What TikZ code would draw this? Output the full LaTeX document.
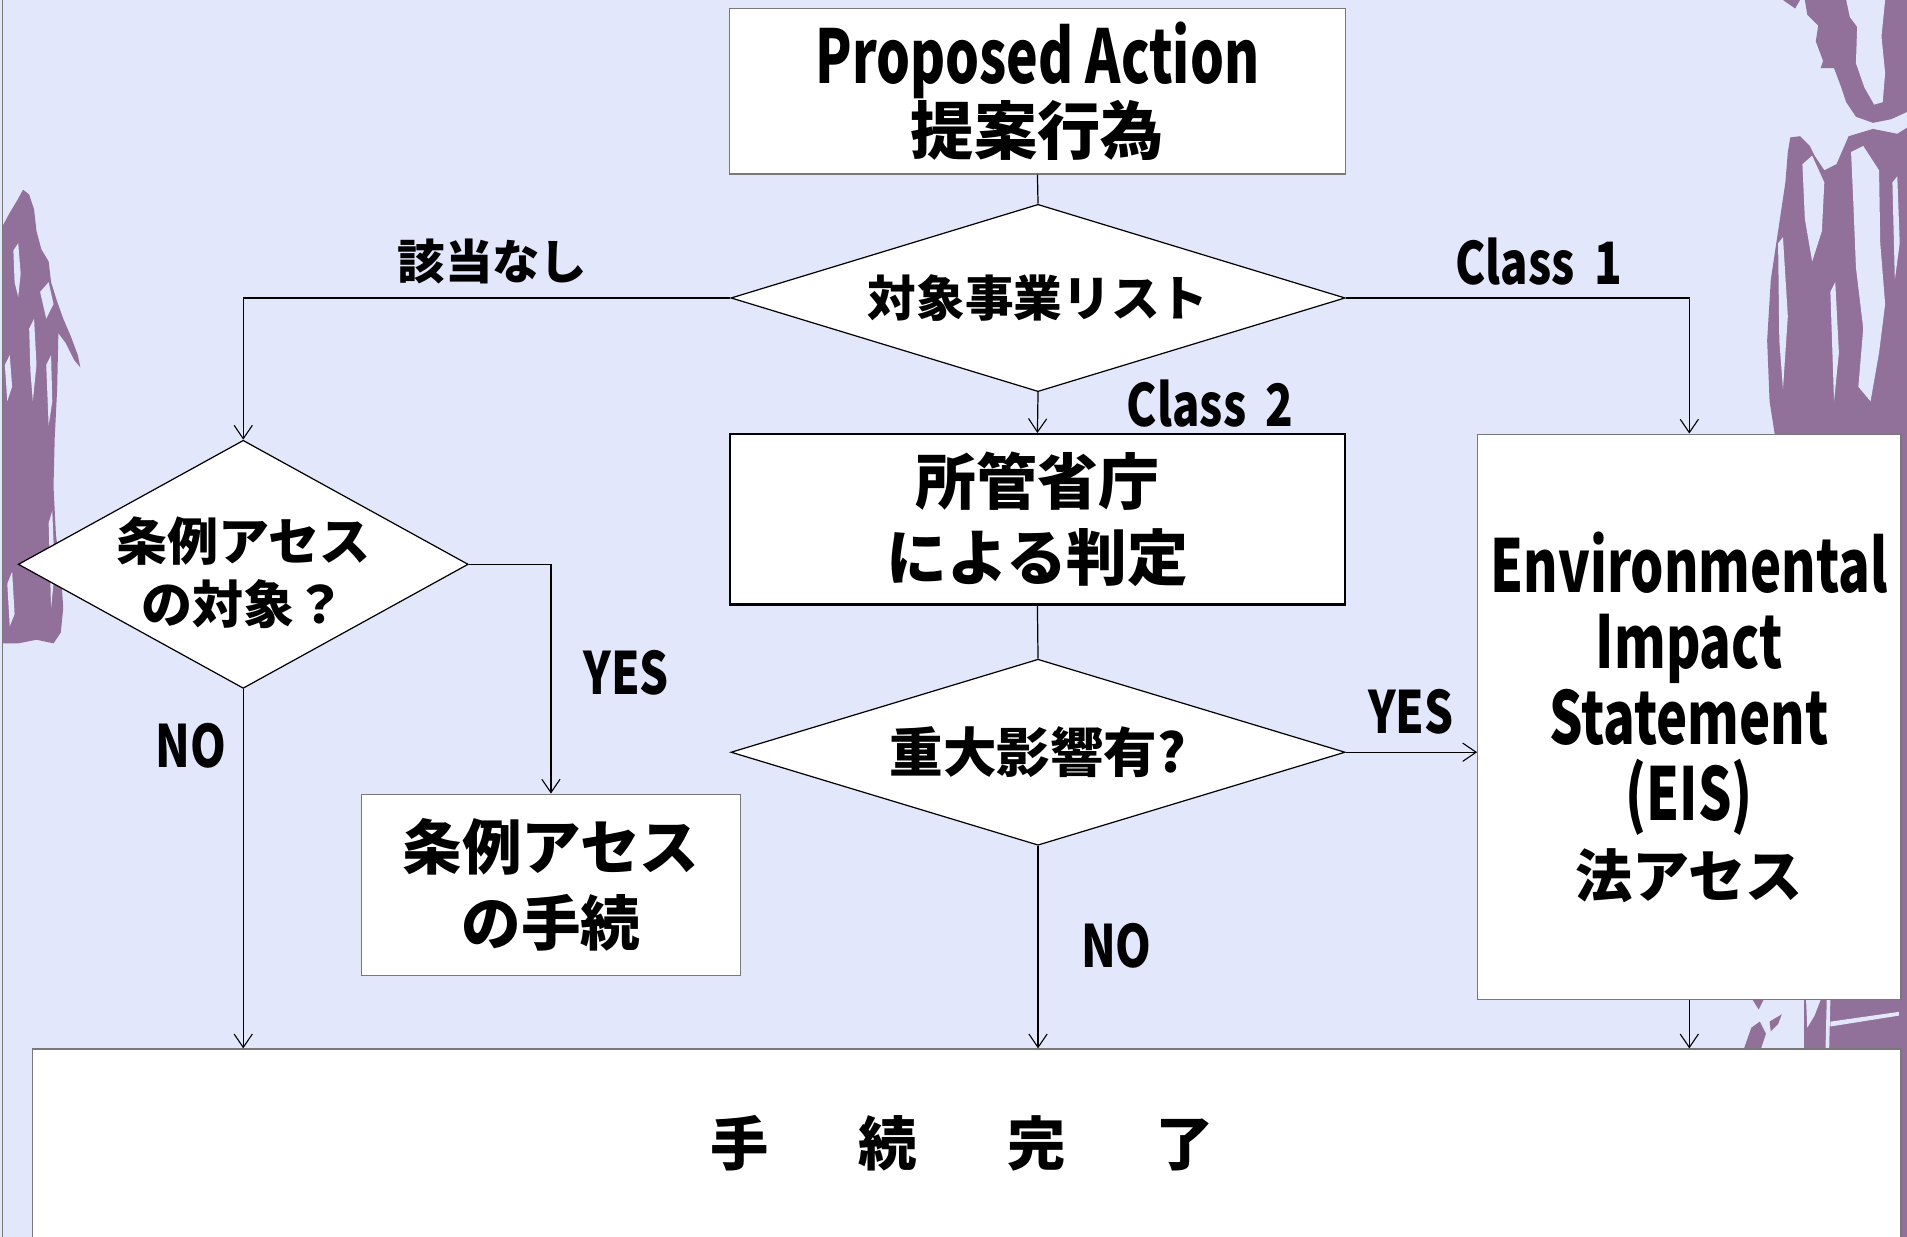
\documentclass[tikz,border=0pt]{standalone}
\usepackage{fontspec}
\usetikzlibrary{shapes.geometric,arrows.meta,calc}
\newfontfamily\jp{Noto Sans CJK JP}[BoldFont={Noto Sans CJK JP Black}]
\newfontfamily\lat{Noto Sans CJK JP}[FakeStretch=0.78]
\newfontfamily\latn{Noto Sans CJK JP}[FakeStretch=0.72]
\newcommand{\fsz}[2]{\fontsize{#1bp}{#2bp}\selectfont}
\definecolor{bgc}{RGB}{226,231,251}
\definecolor{brush}{RGB}{145,112,153}
\definecolor{edge}{RGB}{120,120,120}

\begin{document}
\begin{tikzpicture}[x=1bp,y=-1bp,
  box/.style={draw=edge, line width=1bp, fill=white, inner sep=0pt},
  thickbox/.style={draw=black, line width=2bp, fill=white, inner sep=0pt},
  dia/.style={diamond, draw=black, line width=1bp, fill=white, inner sep=0pt},
  flow/.style={draw=black, line width=1bp, -{Straight Barb[length=11bp,width=15bp,line width=0.9bp]}},
  plain/.style={draw=black, line width=1bp},
  jtxt/.style={font=\jp\bfseries, align=center, inner sep=0pt},
  ltxt/.style={font=\lat\bfseries, align=center, inner sep=0pt}
]
% page and background
\useasboundingbox (0,0) rectangle (1568,1017);
\clip (0,0) rectangle (1568,1017);
\fill[bgc] (0,0) rectangle (1568,1017);

% brush strokes, left edge
\fill[brush] (2,186) -- (8,175) -- (14,165) -- (19,156) -- (24,160) -- (28,172)
  -- (30,190) -- (34,205) -- (40,215) -- (42,232) -- (47,248) -- (52,262)
  -- (58,276) -- (64,292) -- (66,302) -- (61,296) -- (54,282) -- (48,274)
  -- (47,320) -- (45,360) -- (44,400) -- (46,440) -- (50,470) -- (52,500)
  -- (50,520) -- (44,529) -- (30,526) -- (15,529) -- (2,529) -- cycle;
\fill[bgc] (11,206) -- (15,200) -- (17,225) -- (15,244) -- (12,232) -- cycle;
\fill[bgc] (33,240) -- (40,232) -- (44,250) -- (38,262) -- cycle;
\fill[bgc] (38,300) -- (42,292) -- (43,330) -- (40,350) -- cycle;
\fill[bgc] (4,300) -- (8,292) -- (10,318) -- (6,330) -- cycle;
\fill[bgc] (24,270) -- (28,262) -- (30,300) -- (27,330) -- (25,305) -- cycle;
\fill[bgc] (40,430) -- (43,420) -- (45,470) -- (42,500) -- cycle;
\fill[bgc] (6,480) -- (10,470) -- (12,505) -- (8,515) -- cycle;

% brush strokes, right edge (top)
\fill[brush] (1484,0) -- (1486,12) -- (1495,21) -- (1493,34) -- (1499,50)
  -- (1497,56) -- (1508,56) -- (1514,72) -- (1518,84) -- (1526,96)
  -- (1540,101) -- (1555,98) -- (1568,92) -- (1568,0) -- cycle;
\fill[bgc] (1518,0) -- (1521,14) -- (1527,22) -- (1526,52) -- (1533,72)
  -- (1541,86) -- (1548,84) -- (1550,60) -- (1547,30) -- (1550,0) -- cycle;
\fill[brush] (1466,0) -- (1480,0) -- (1476,7) -- cycle;
\fill[brush] (1472,113) -- (1480,112) -- (1488,120) -- (1492,128) -- (1500,140)
  -- (1510,135) -- (1520,112) -- (1540,106) -- (1560,110) -- (1568,105)
  -- (1568,362) -- (1460,362) -- (1455,330) -- (1453,280) -- (1456,230)
  -- (1462,190) -- (1468,150) -- (1470,125) -- cycle;
\fill[bgc] (1522,125) -- (1532,120) -- (1545,140) -- (1546,200) -- (1550,250)
  -- (1545,290) -- (1538,330) -- (1528,318) -- (1532,270) -- (1526,220)
  -- (1524,170) -- cycle;
\fill[bgc] (1482,135) -- (1490,128) -- (1500,150) -- (1498,190) -- (1490,215)
  -- (1484,180) -- cycle;
\fill[bgc] (1462,200) -- (1466,195) -- (1470,260) -- (1466,320) -- (1463,280) -- cycle;
\fill[bgc] (1505,240) -- (1509,232) -- (1512,290) -- (1508,330) -- cycle;
\fill[bgc] (1556,150) -- (1560,145) -- (1562,200) -- (1558,230) -- cycle;

% brush strokes, right edge (lower)
\fill[brush] (1483,822) rectangle (1568,862);
\fill[bgc] (1485,822) -- (1497,822) -- (1492,835) -- (1486,845) -- cycle;
\fill[bgc] (1502,822) -- (1505,822) -- (1504,862) -- (1501,862) -- cycle;
\fill[bgc] (1505,840) -- (1568,831) -- (1568,834) -- (1505,844) -- cycle;
\fill[brush] (1434,862) -- (1440,845) -- (1447,840) -- (1452,850) -- (1448,862) -- cycle;
\fill[brush] (1455,840) -- (1465,834) -- (1462,842) -- (1456,848) -- cycle;
\fill[brush] (1441,822) -- (1450,822) -- (1446,830) -- cycle;
\fill[brush] (1561,300) rectangle (1568,1017);

% thin frame line on the left
\draw[edge, line width=1bp] (2,0) -- (2,1017);

% boxes
\node[box, font=\jp\bfseries, align=center, minimum width=506bp, minimum height=136bp] (pa) at (853,75)
  {{\latn\bfseries\fsz{61}{60}Proposed Action}\\{\fsz{52}{60}提案行為}};
\node[dia, minimum width=505bp, minimum height=154bp] (d1) at (853.5,245) {};
\node[jtxt, font=\jp\bfseries\fsz{40}{48}] (d1t) at (d1.center) {対象事業リスト};
\node[thickbox, font=\jp\bfseries\fsz{50}{62}, align=center, minimum width=506bp, minimum height=140bp] (jud) at (853,427)
  {所管省庁\\による判定};
\node[dia, minimum width=505bp, minimum height=153bp] (d2) at (853.5,618.5) {};
\node[jtxt, font=\jp\bfseries\fsz{44}{50}] (d2t) at (d2.center) {重大影響有?};
\node[dia, minimum width=370bp, minimum height=204bp] (cond) at (200,464) {};
\node[jtxt, font=\jp\bfseries\fsz{42}{52}] (condt) at ($(cond.center)+(0,7)$) {条例アセス\\の対象？};
\node[box, font=\jp\bfseries\fsz{49}{63}, align=center, minimum width=312bp, minimum height=149bp] (local) at (453,727.5)
  {条例アセス\\の手続};
\node[box, font=\latn\bfseries\fsz{60}{62.7}, align=center, minimum width=348bp, minimum height=465bp] (eis) at (1389,589.5)
  {Environmental\\Impact\\Statement\\(EIS)\\{\jp\bfseries\fsz{47}{62.7}法アセス}};
\node[box, minimum width=1536bp, minimum height=190bp, anchor=north] (done) at (795,862) {};
\node[jtxt, font=\jp\bfseries\fsz{48}{56}] (donet) at (791,940)
  {手\hspace{74bp}続\hspace{74bp}完\hspace{74bp}了};

% connectors
\draw[plain] (pa.south) -- (d1.north);
\draw[flow] (d1.south) -- (jud.north);
\draw[plain] (jud.south) -- (d2.north);
\draw[flow] (d1.west) -| (cond.north);
\draw[flow] (d1.east) -| (eis.north);
\draw[flow] (cond.east) -| (local.north);
\draw[flow] (cond.south) -- (cond.south |- done.north);
\draw[flow] (d2.east) -- (d2.east -| eis.west);
\draw[flow] (d2.south) -- (d2.south |- done.north);
\draw[flow] (eis.south) -- (eis.south |- done.north);

% branch labels
\node[jtxt, font=\jp\bfseries\fsz{39}{45}] (l1) at (405,215) {該当なし};
\node[ltxt, font=\lat\bfseries\fsz{48}{50}] (l2) at (1265,215) {Class\hspace{16bp}1};
\node[ltxt, font=\lat\bfseries\fsz{48}{50}] (l3) at (995,332) {Class\hspace{16bp}2};
\node[ltxt, font=\lat\bfseries\fsz{48}{50}] (l4) at (515,553) {YES};
\node[ltxt, font=\lat\bfseries\fsz{48}{50}] (l5) at (157,613) {NO};
\node[ltxt, font=\lat\bfseries\fsz{48}{50}] (l6) at (1160,585) {YES};
\node[ltxt, font=\lat\bfseries\fsz{48}{50}] (l7) at (918,778) {NO};
\end{tikzpicture}
\end{document}
